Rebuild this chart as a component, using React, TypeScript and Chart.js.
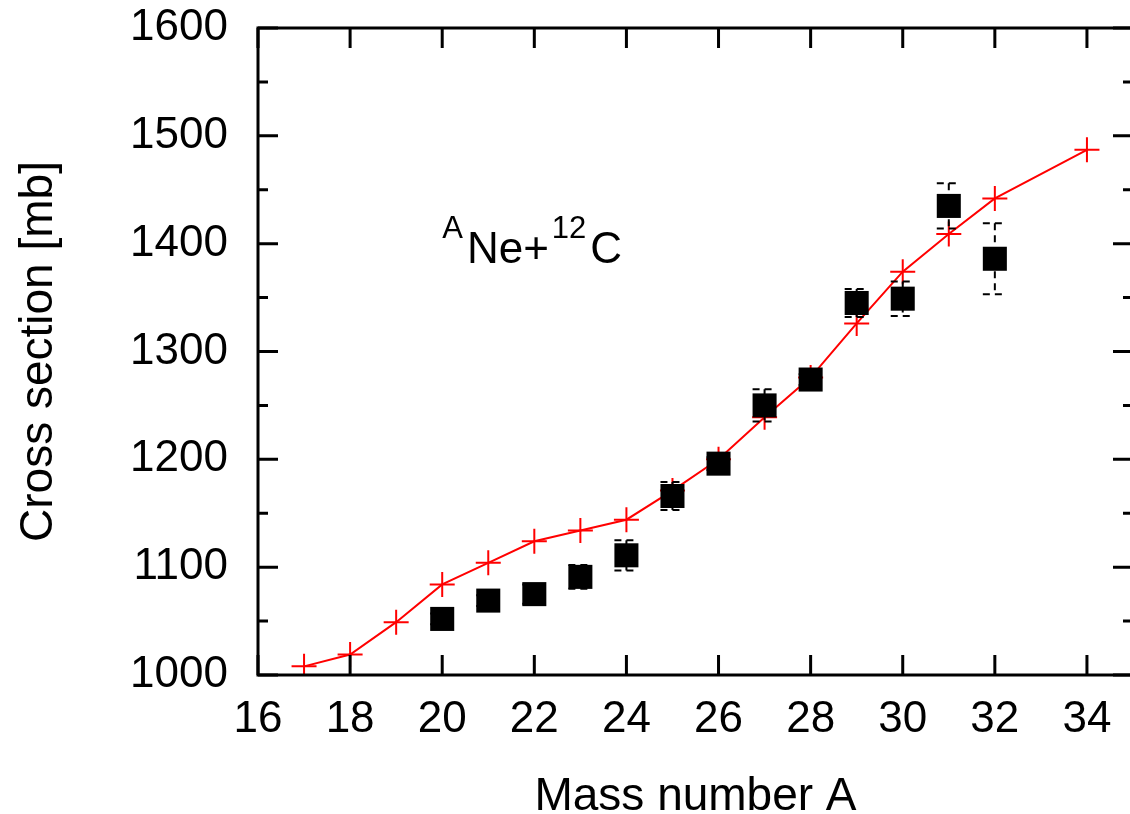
import React, { useEffect, useRef } from 'react';
import { Chart, registerables } from 'chart.js';

Chart.register(...registerables);

// Theory (red line with crosses)
const massTheory = [17, 18, 19, 20, 21, 22, 23, 24, 25, 26, 27, 28, 29, 30, 31, 32, 34];
const sigmaTheory = [1008, 1019, 1049, 1084, 1104, 1124, 1134, 1144, 1171, 1200, 1239, 1276, 1326, 1374, 1409, 1442, 1487];

// Experiment (black squares with error bars)
const massExp = [20, 21, 22, 23, 24, 25, 26, 27, 28, 29, 30, 31, 32];
const sigmaExp = [1052, 1069, 1075, 1091, 1111, 1166, 1196, 1250, 1274, 1345, 1349, 1435, 1386];
const errExp = [5, 5, 9, 11, 14, 13, 6, 15, 5, 13, 16, 21, 33];

// Axes
const xTicks = [16, 18, 20, 22, 24, 26, 28, 30, 32, 34];
const yTicks = [1000, 1100, 1200, 1300, 1400, 1500, 1600];
const yMinorTicks = [1050, 1150, 1250, 1350, 1450, 1550];
const xMin = 16;
const xMax = 35;
const yMin = 1000;
const yMax = 1600;
const xTitle = 'Mass number A';
const yTitle = 'Cross section [mb]';

// Annotation
const annoSupA = 'A';
const annoMain = 'Ne+';
const annoSup12 = '12';
const annoC = 'C';
const annoX = 20;
const annoY = 1382;

const FONT = '"Liberation Sans", Arial, Helvetica, sans-serif';

export default function App() {
  const ref = useRef<HTMLCanvasElement>(null);

  useEffect(() => {
    document.body.style.margin = '0';
    document.body.style.overflow = 'hidden';
    const canvas = ref.current;
    if (!canvas) return;

    const decorPlugin = {
      id: 'decor',
      afterDatasetsDraw(chart: any) {
        const ctx = chart.ctx;
        const xs = chart.scales.x;
        const ys = chart.scales.y;
        ctx.save();
        ctx.strokeStyle = '#000';
        ctx.lineWidth = 2;
        ctx.setLineDash([7, 5]);
        massExp.forEach((m, i) => {
          const px = xs.getPixelForValue(m);
          const yt = ys.getPixelForValue(sigmaExp[i] + errExp[i]);
          const yb = ys.getPixelForValue(sigmaExp[i] - errExp[i]);
          const hw = 12;
          ctx.beginPath();
          ctx.moveTo(px, yt);
          ctx.lineTo(px, yb);
          ctx.moveTo(px - hw, yt);
          ctx.lineTo(px + hw, yt);
          ctx.moveTo(px - hw, yb);
          ctx.lineTo(px + hw, yb);
          ctx.stroke();
        });
        ctx.restore();
      },
      afterDraw(chart: any) {
        const ctx = chart.ctx;
        const a = chart.chartArea;
        const xs = chart.scales.x;
        const ys = chart.scales.y;
        ctx.save();
        ctx.strokeStyle = '#000';
        ctx.lineWidth = 3;
        ctx.setLineDash([]);
        ctx.strokeRect(a.left, a.top, a.right - a.left, a.bottom - a.top);
        const major = 20;
        const minor = 10;
        ctx.beginPath();
        xTicks.forEach((v) => {
          const px = xs.getPixelForValue(v);
          ctx.moveTo(px, a.bottom);
          ctx.lineTo(px, a.bottom - major);
          ctx.moveTo(px, a.top);
          ctx.lineTo(px, a.top + major);
        });
        yTicks.forEach((v) => {
          const py = ys.getPixelForValue(v);
          ctx.moveTo(a.left, py);
          ctx.lineTo(a.left + major, py);
          ctx.moveTo(a.right, py);
          ctx.lineTo(a.right - major, py);
        });
        yMinorTicks.forEach((v) => {
          const py = ys.getPixelForValue(v);
          ctx.moveTo(a.left, py);
          ctx.lineTo(a.left + minor, py);
          ctx.moveTo(a.right, py);
          ctx.lineTo(a.right - minor, py);
        });
        ctx.stroke();

        // Titles
        ctx.fillStyle = '#000';
        ctx.font = `46px ${FONT}`;
        ctx.textAlign = 'center';
        ctx.textBaseline = 'alphabetic';
        ctx.fillText(xTitle, (a.left + a.right) / 2, 810);
        ctx.save();
        ctx.translate(52, (a.top + a.bottom) / 2);
        ctx.rotate(-Math.PI / 2);
        ctx.fillText(yTitle, 0, 0);
        ctx.restore();

        // Annotation
        ctx.textAlign = 'left';
        let x = xs.getPixelForValue(annoX);
        const base = ys.getPixelForValue(annoY);
        const supBase = base - 25;
        ctx.font = `31px ${FONT}`;
        ctx.fillText(annoSupA, x, supBase);
        x += ctx.measureText(annoSupA).width + 4;
        ctx.font = `44px ${FONT}`;
        ctx.fillText(annoMain, x, base);
        x += ctx.measureText(annoMain).width + 3;
        ctx.font = `31px ${FONT}`;
        ctx.fillText(annoSup12, x, supBase);
        x += ctx.measureText(annoSup12).width + 4;
        ctx.font = `44px ${FONT}`;
        ctx.fillText(annoC, x, base);
        ctx.restore();
      },
    };

    const tickFont = { family: FONT, size: 44 };

    const chart = new Chart(canvas, {
      type: 'scatter',
      data: {
        datasets: [
          {
            label: 'Experiment',
            data: massExp.map((m, i) => ({ x: m, y: sigmaExp[i] })),
            pointStyle: 'rect',
            pointRadius: 17,
            backgroundColor: '#000',
            borderColor: '#000',
            borderWidth: 0,
            showLine: false,
          },
          {
            label: 'Theory',
            data: massTheory.map((m, i) => ({ x: m, y: sigmaTheory[i] })),
            showLine: true,
            borderColor: '#ff0000',
            borderWidth: 2,
            pointStyle: 'cross',
            pointRadius: 12.5,
            pointBorderWidth: 2,
            pointBorderColor: '#ff0000',
            pointBackgroundColor: '#ff0000',
            tension: 0,
          },
        ],
      },
      options: {
        responsive: false,
        animation: false,
        layout: { padding: { top: 28, right: 12, left: 0, bottom: 0 } },
        plugins: {
          legend: { display: false },
          tooltip: { enabled: false },
        },
        scales: {
          x: {
            type: 'linear',
            min: xMin,
            max: xMax,
            afterBuildTicks: (axis: any) => {
              axis.ticks = xTicks.map((v) => ({ value: v }));
            },
            afterFit: (s: any) => {
              s.height = 139;
              s.paddingLeft = 0;
              s.paddingRight = 0;
            },
            grid: { display: false, drawTicks: false },
            border: { display: false },
            ticks: {
              font: tickFont,
              color: '#000',
              padding: 18,
              maxRotation: 0,
              autoSkip: false,
              callback: (v: any) => String(v),
            },
          },
          y: {
            type: 'linear',
            min: yMin,
            max: yMax,
            afterBuildTicks: (axis: any) => {
              axis.ticks = yTicks.map((v) => ({ value: v }));
            },
            afterFit: (s: any) => {
              s.width = 258;
              s.paddingTop = 0;
              s.paddingBottom = 0;
            },
            grid: { display: false, drawTicks: false },
            border: { display: false },
            ticks: {
              font: tickFont,
              color: '#000',
              padding: 30,
              autoSkip: false,
              callback: (v: any) => String(v),
            },
          },
        },
      },
      plugins: [decorPlugin],
    } as any);

    return () => chart.destroy();
  }, []);

  return (
    <div
      style={{
        position: 'fixed',
        left: 0,
        top: 0,
        width: 1130,
        height: 814,
        overflow: 'hidden',
        background: '#fff',
      }}
    >
      <canvas ref={ref} width={1150} height={814} style={{ display: 'block' }} />
    </div>
  );
}
